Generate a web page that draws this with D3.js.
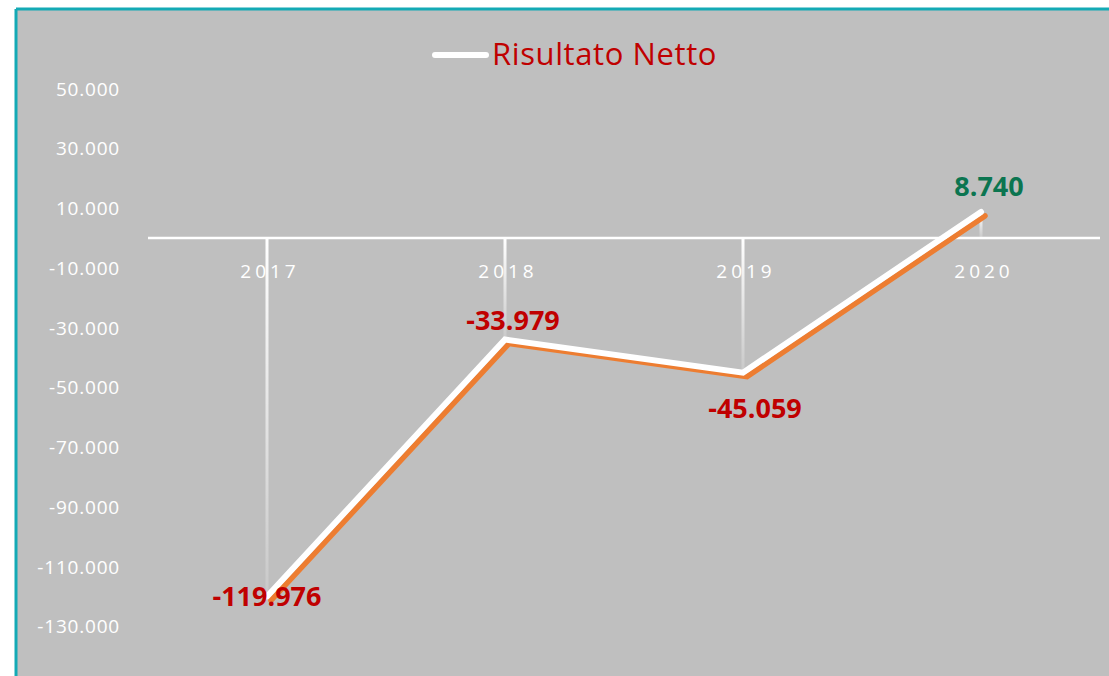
<!DOCTYPE html>
<html>
<head>
<meta charset="utf-8">
<script src="https://cdn.jsdelivr.net/npm/d3@7"></script>
<style>
  body { margin: 0; background: #fff; }
  svg { display: block; }
  text { font-family: "Open Sans", "Noto Sans", sans-serif; }
</style>
</head>
<body>
<svg width="1109" height="676"></svg>
<script>
var years = ['2017', '2018', '2019', '2020']
var netResult = [-119976, -33979, -45059, 8740]
var yTicks = [50000, 30000, 10000, -10000, -30000, -50000, -70000, -90000, -110000, -130000]
var seriesName = 'Risultato Netto'

var svg = d3.select('svg')
var locale = d3.formatLocale({decimal: ',', thousands: '.', grouping: [3], currency: ['', ''], minus: '-'})
var fmt = locale.format(',d')

// chart background + teal frame
svg.append('rect').attr('x', 16).attr('y', 9).attr('width', 1109 - 16).attr('height', 676 - 9)
  .attr('fill', '#bfbfbf')
svg.append('line').attr('x1', 16).attr('x2', 1109).attr('y1', 9).attr('y2', 9)
  .attr('stroke', '#14aab5').attr('stroke-width', 3)
svg.append('line').attr('x1', 16).attr('x2', 16).attr('y1', 9).attr('y2', 676)
  .attr('stroke', '#14aab5').attr('stroke-width', 3)

var x = d3.scaleBand().domain(years).range([148, 1100])
var y = d3.scaleLinear().domain([0, -120000]).range([238, 238 + 120 * 2.9875])

function cx(d) { return x(d) + x.bandwidth() / 2 }

// drop lines gradient
var defs = svg.append('defs')
var grad = defs.append('linearGradient').attr('id', 'drop')
  .attr('x1', 0).attr('x2', 0).attr('y1', 0).attr('y2', 1)
grad.append('stop').attr('offset', '0%').attr('stop-color', '#ffffff').attr('stop-opacity', 1)
grad.append('stop').attr('offset', '100%').attr('stop-color', '#ffffff').attr('stop-opacity', 0.15)

svg.append('g').selectAll('rect')
  .data(years)
  .enter()
  .append('rect')
  .attr('x', function (d) { return cx(d) - 1.5 })
  .attr('width', 3)
  .attr('y', function (d, i) { return Math.min(y(0), y(netResult[i])) })
  .attr('height', function (d, i) { return Math.abs(y(0) - y(netResult[i])) })
  .attr('fill', 'url(#drop)')

// zero axis line
svg.append('line').attr('x1', x.range()[0]).attr('x2', x.range()[1])
  .attr('y1', y(0)).attr('y2', y(0))
  .attr('stroke', '#ffffff').attr('stroke-width', 2.5)

// y axis labels
svg.append('g').selectAll('text')
  .data(yTicks)
  .enter()
  .append('text')
  .attr('x', 120)
  .attr('y', function (d) { return y(d) + 7 })
  .attr('text-anchor', 'end')
  .attr('fill', '#ffffff')
  .attr('font-size', 19)
  .attr('letter-spacing', 0.8)
  .text(function (d) { return fmt(d) })

// x axis labels
svg.append('g').selectAll('text')
  .data(years)
  .enter()
  .append('text')
  .attr('x', function (d) { return cx(d) + 3 })
  .attr('y', 278)
  .attr('text-anchor', 'middle')
  .attr('fill', '#ffffff')
  .attr('font-size', 19)
  .attr('letter-spacing', 4)
  .text(function (d) { return d })

var pts = years.map(function (d, i) { return [cx(d), y(netResult[i])] })
var line = d3.line()

// orange shadow then white series line
svg.append('path').attr('d', line(pts))
  .attr('transform', 'translate(4,4)')
  .attr('fill', 'none').attr('stroke', '#ed7d31').attr('stroke-width', 5.5)
  .attr('stroke-linejoin', 'miter').attr('stroke-linecap', 'round')
svg.append('path').attr('d', line(pts))
  .attr('fill', 'none').attr('stroke', '#ffffff').attr('stroke-width', 6)
  .attr('stroke-linejoin', 'miter').attr('stroke-linecap', 'round')

// data labels
var labelOffset = [[0, 10], [8, -10], [12, 45], [8, -16]]
svg.append('g').selectAll('text')
  .data(netResult)
  .enter()
  .append('text')
  .attr('x', function (d, i) { return pts[i][0] + labelOffset[i][0] })
  .attr('y', function (d, i) { return pts[i][1] + labelOffset[i][1] })
  .attr('text-anchor', 'middle')
  .attr('font-size', 27)
  .attr('font-weight', 'bold')
  .attr('fill', function (d) { return d < 0 ? '#c00000' : '#0b7550' })
  .text(function (d) { return fmt(d) })

// legend
var legend = svg.append('g')
legend.append('line').attr('x1', 435).attr('x2', 486).attr('y1', 55).attr('y2', 55)
  .attr('stroke', '#ffffff').attr('stroke-width', 6).attr('stroke-linecap', 'round')
legend.append('text').attr('x', 492).attr('y', 65)
  .attr('fill', '#c00000').attr('font-size', 31)
  .attr('letter-spacing', 0.6)
  .text(seriesName)
</script>
</body>
</html>
